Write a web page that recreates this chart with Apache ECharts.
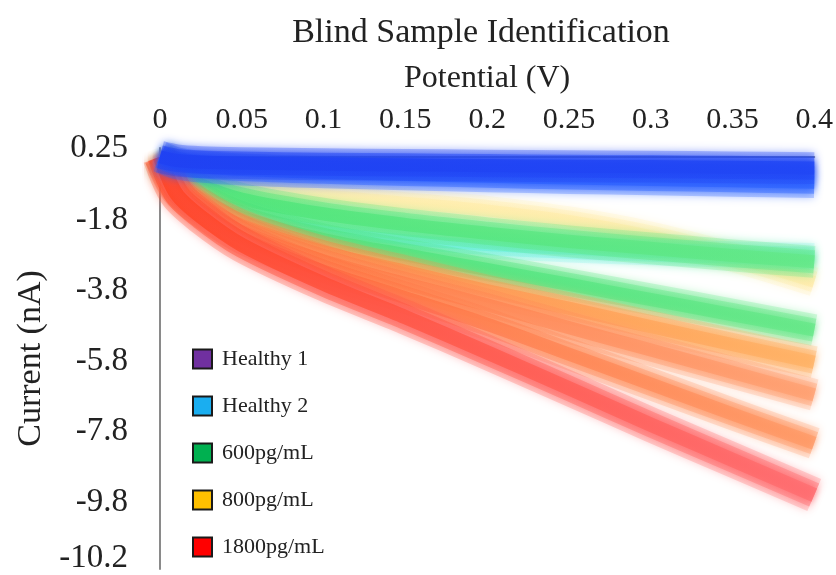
<!DOCTYPE html>
<html>
<head>
<meta charset="utf-8">
<script src="https://cdn.jsdelivr.net/npm/echarts@6/dist/echarts.min.js"></script>
<style>
  html, body { margin: 0; padding: 0; background: #fff; }
  #chart { width: 836px; height: 575px; }
</style>
</head>
<body>
<div id="chart"></div>
<script>
// Potential sweep (V)
const potential = [0, 0.01, 0.025, 0.05, 0.1, 0.15, 0.2, 0.25, 0.3, 0.35, 0.4];

// Current traces (nA), one array per measured sample
const healthy1 = [0, -0.1, -0.15, -0.18, -0.21, -0.23, -0.25, -0.27, -0.28, -0.3, -0.32];
const healthy2 = [0, -0.18, -0.28, -0.36, -0.44, -0.5, -0.55, -0.6, -0.64, -0.68, -0.72];
const healthy2b = [0, -0.5, -1.0, -1.55, -2.1, -2.35, -2.52, -2.63, -2.71, -2.77, -2.82];
const pg600a = [0, -0.4, -0.8, -1.2, -1.62, -1.92, -2.17, -2.4, -2.6, -2.8, -2.98];
const pg600b = [0, -0.7, -1.2, -1.72, -2.35, -2.78, -3.2, -3.62, -4.05, -4.48, -4.92];
const pg800a = [0, -0.3, -0.6, -0.85, -1.1, -1.3, -1.52, -1.82, -2.25, -2.85, -3.55];
const pg800b = [0, -0.8, -1.35, -1.95, -2.7, -3.25, -3.8, -4.3, -4.82, -5.33, -5.83];
const pg800c = [0, -0.9, -1.45, -2.12, -2.95, -3.6, -4.2, -4.85, -5.48, -6.12, -6.76];
const pg1800a = [0, -0.95, -1.55, -2.3, -3.25, -4.0, -4.75, -5.6, -6.45, -7.3, -8.13];
const pg1800b = [0, -1.05, -1.7, -2.5, -3.6, -4.55, -5.55, -6.57, -7.6, -8.6, -9.6];

// Axis ticks
const xTicks = { min: 0, max: 0.4, step: 0.05 };
const yTickValues = [0.25, -1.8, -3.8, -5.8, -7.8, -9.8, -11.4];
const yTickLabels = ['0.25', '-1.8', '-3.8', '-5.8', '-7.8', '-9.8', '-10.2'];

// Legend groups
const groupNames = ['Healthy 1', 'Healthy 2', '600pg/mL', '800pg/mL', '1800pg/mL'];
const groupSwatches = ['#7030a0', '#1aaef0', '#00b050', '#ffc000', '#ff0000'];

const serif = 'Liberation Serif';
const chart = echarts.init(document.getElementById('chart'), null, { renderer: 'canvas' });

function pairs(ys) {
  return potential.map((x, i) => [x, ys[i]]);
}

function grad(c0, c1) {
  return new echarts.graphic.LinearGradient(0, 0, 1, 0, [
    { offset: 0, color: c0 },
    { offset: 1, color: c1 }
  ]);
}

// Each trace is drawn as a few stacked strokes so the band fades out at its edges
const layers = [
  { w: 1.45, a: 0.2, blur: 10 },
  { w: 1.05, a: 0.3, blur: 8 },
  { w: 0.6, a: 0.5, blur: 6 }
];

function band(name, ys, c0, c1, width, strength, z) {
  return layers.map((l) => ({
    name: name,
    type: 'line',
    data: pairs(ys),
    smooth: 0.3,
    showSymbol: false,
    symbol: 'none',
    z: z,
    silent: true,
    lineStyle: {
      color: grad(c0, c1),
      width: width * l.w,
      opacity: Math.min(1, l.a * strength),
      cap: 'butt',
      join: 'round',
      shadowBlur: l.blur,
      shadowColor: c1
    },
    emphasis: { disabled: true }
  }));
}

const series = [].concat(
  band('800pg/mL', pg800a, '#fff0a8', '#ffe79a', 20, 0.8, 2),
  band('Healthy 2', healthy2b, '#46f0ee', '#7ff0f2', 18, 1.0, 3),
  band('600pg/mL', pg600a, '#3fe36f', '#63e886', 22, 1.2, 3),
  band('600pg/mL', pg600b, '#34e070', '#62e785', 22, 1.2, 4),
  band('800pg/mL', pg800b, '#ff6a2a', '#ffb060', 22, 1.15, 5),
  band('800pg/mL', pg800c, '#ff5a26', '#ff9d6c', 22, 1.1, 6),
  band('1800pg/mL', pg1800a, '#ff4a1e', '#ff9660', 22, 1.1, 7),
  band('1800pg/mL', pg1800b, '#ff3a14', '#ff6a6e', 24, 1.25, 8),
  band('Healthy 2', healthy2, '#2f62ff', '#2f66ff', 22, 1.4, 9),
  band('Healthy 1', healthy1, '#1f40f2', '#2046f5', 22, 1.5, 10)
);

chart.setOption({
  backgroundColor: '#ffffff',
  animation: false,
  title: {
    text: 'Blind Sample Identification',
    left: 476,
    top: 11,
    textAlign: 'center',
    textStyle: { fontFamily: serif, fontSize: 34, fontWeight: 'normal', color: '#222' }
  },
  legend: {
    orient: 'vertical',
    left: 192,
    top: 348,
    padding: 0,
    itemWidth: 19,
    itemHeight: 19,
    itemGap: 25,
    icon: 'rect',
    selectedMode: false,
    textStyle: { fontFamily: serif, fontSize: 22, color: '#222', padding: [0, 0, 0, 5] },
    data: groupNames.map((n, i) => ({
      name: n,
      itemStyle: { color: groupSwatches[i], borderColor: '#1a1a1a', borderWidth: 2, opacity: 1 },
      lineStyle: { opacity: 0 }
    }))
  },
  grid: { left: 160, right: 14, top: 148, bottom: 6, containLabel: false },
  xAxis: {
    type: 'value',
    position: 'top',
    min: xTicks.min,
    max: xTicks.max,
    interval: xTicks.step,
    name: 'Potential (V)',
    nameLocation: 'middle',
    nameGap: 53,
    nameTextStyle: { fontFamily: serif, fontSize: 32, color: '#222' },
    axisLine: { show: true, onZero: true, lineStyle: { color: '#8a8a8a', width: 2 } },
    axisTick: { show: false },
    splitLine: { show: false },
    axisLabel: {
      margin: 13,
      fontFamily: serif,
      fontSize: 30,
      color: '#222',
      showMinLabel: true,
      showMaxLabel: true
    }
  },
  yAxis: {
    type: 'value',
    min: -11.7,
    max: 0.25,
    name: 'Current (nA)',
    nameLocation: 'middle',
    nameGap: 112,
    nameRotate: 90,
    nameTextStyle: { fontFamily: serif, fontSize: 34, color: '#222' },
    axisLine: { show: true, onZero: false, lineStyle: { color: '#8a8a8a', width: 2 } },
    axisTick: { show: false },
    splitLine: { show: false },
    axisLabel: {
      customValues: yTickValues,
      margin: 32,
      fontFamily: serif,
      fontSize: 33,
      color: '#222',
      formatter: function (v) {
        let best = 0;
        yTickValues.forEach((t, i) => {
          if (Math.abs(t - v) < Math.abs(yTickValues[best] - v)) best = i;
        });
        return yTickLabels[best];
      }
    }
  },
  series: series
});
</script>
</body>
</html>
